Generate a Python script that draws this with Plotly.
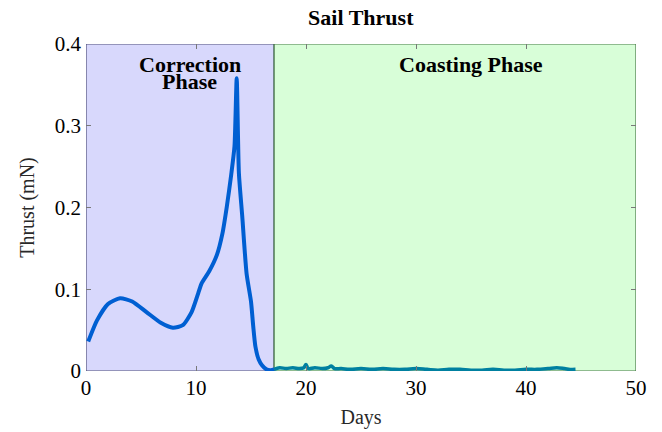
import plotly.graph_objects as go

# Correction phase thrust profile (days, mN)
corr_days = [0.2, 1.0, 2.0, 3.1, 4.2, 5.5, 6.8, 7.9, 8.8, 9.6, 10.2, 10.5, 11.2, 11.9,
             12.4, 12.8, 13.2, 13.5, 13.7, 13.9, 14.2, 14.6, 15.0, 15.2, 15.4, 15.7,
             16.0, 16.4, 16.8, 17.1]
corr_thrust = [0.036, 0.062, 0.082, 0.089, 0.085, 0.072, 0.059, 0.053, 0.056, 0.072,
               0.095, 0.107, 0.122, 0.142, 0.168, 0.201, 0.240, 0.275, 0.358, 0.242,
               0.190, 0.119, 0.085, 0.055, 0.030, 0.014, 0.007, 0.002, 0.001, 0.002]

# Coasting phase residual thrust (days, mN)
coast_days = [17.1, 17.6, 18.2, 18.8, 19.4, 19.8, 20.0, 20.2, 20.8, 21.5, 22.0, 22.3,
              22.6, 23.2, 24.0, 25.0, 26.0, 27.0, 28.0, 29.0, 30.0, 31.0, 32.0, 33.0,
              34.0, 35.0, 36.0, 37.0, 38.0, 39.0, 40.0, 41.0, 42.0, 42.8, 43.5, 44.0, 44.5]
coast_thrust = [0.002, 0.004, 0.003, 0.004, 0.003, 0.004, 0.008, 0.003, 0.004, 0.003,
                0.004, 0.006, 0.003, 0.003, 0.002, 0.003, 0.002, 0.003, 0.002, 0.002,
                0.003, 0.002, 0.001, 0.002, 0.002, 0.001, 0.001, 0.002, 0.001, 0.001,
                0.002, 0.002, 0.003, 0.004, 0.003, 0.002, 0.002]

phase_split = 17.1
x_range = [0, 50]
y_range = [0, 0.4]
x_ticks = [0, 10, 20, 30, 40, 50]
y_ticks = [0, 0.1, 0.2, 0.3, 0.4]
y_tick_text = ["0", "0.1", "0.2", "0.3", "0.4"]

serif = "Liberation Serif"

fig = go.Figure()

# Phase backgrounds
fig.add_shape(type="rect", xref="x", yref="y", x0=0, x1=phase_split, y0=0, y1=0.4,
              fillcolor="rgb(216,216,252)", line=dict(color="rgb(80,80,120)", width=1.2),
              layer="below")
fig.add_shape(type="rect", xref="x", yref="y", x0=phase_split, x1=50, y0=0, y1=0.4,
              fillcolor="rgb(216,254,216)", line=dict(color="rgb(70,120,70)", width=1.2),
              layer="below")

fig.add_trace(go.Scatter(x=coast_days, y=coast_thrust, mode="lines",
                         line=dict(color="rgb(0,128,160)", width=3.5, shape="spline"),
                         hoverinfo="skip", showlegend=False))
fig.add_trace(go.Scatter(x=corr_days, y=corr_thrust, mode="lines",
                         line=dict(color="rgb(0,95,210)", width=4, shape="spline", smoothing=0.6),
                         hoverinfo="skip", showlegend=False))

label_font = dict(family=serif, size=22, color="black")
fig.add_annotation(x=9.45, y=0.3755, xref="x", yref="y", text="<b>Correction</b>",
                   showarrow=False, font=label_font, yanchor="middle")
fig.add_annotation(x=9.45, y=0.3545, xref="x", yref="y", text="<b>Phase</b>",
                   showarrow=False, font=label_font, yanchor="middle")
fig.add_annotation(x=35.0, y=0.3755, xref="x", yref="y", text="<b>Coasting Phase</b>",
                   showarrow=False, font=label_font, yanchor="middle")

axis_common = dict(ticks="inside", ticklen=5, tickcolor="rgb(120,120,120)", tickwidth=1,
                   mirror="ticks", showgrid=False, zeroline=False, showline=False,
                   automargin=False,
                   tickfont=dict(family=serif, size=21, color="black"))

fig.update_layout(
    width=662, height=432,
    margin=dict(l=86, r=26, t=44, b=61),
    font=dict(family=serif, color="black"),
    paper_bgcolor="white", plot_bgcolor="white",
    title=dict(text="<b>Sail Thrust</b>", x=0.545, xanchor="center", y=0.96, yanchor="middle",
               font=dict(family=serif, size=22, color="black")),
    xaxis=dict(range=x_range, tickvals=x_ticks, ticklabelstandoff=2,
               title=dict(text="Days", font=dict(family=serif, size=20, color="rgb(40,40,40)"),
                          standoff=10),
               **axis_common),
    yaxis=dict(range=y_range, tickvals=y_ticks, ticktext=y_tick_text, ticklabelstandoff=4,
               title=dict(text="Thrust (mN)", font=dict(family=serif, size=20, color="rgb(40,40,40)"),
                          standoff=14),
               **axis_common),
)

fig.write_html("out.html")
